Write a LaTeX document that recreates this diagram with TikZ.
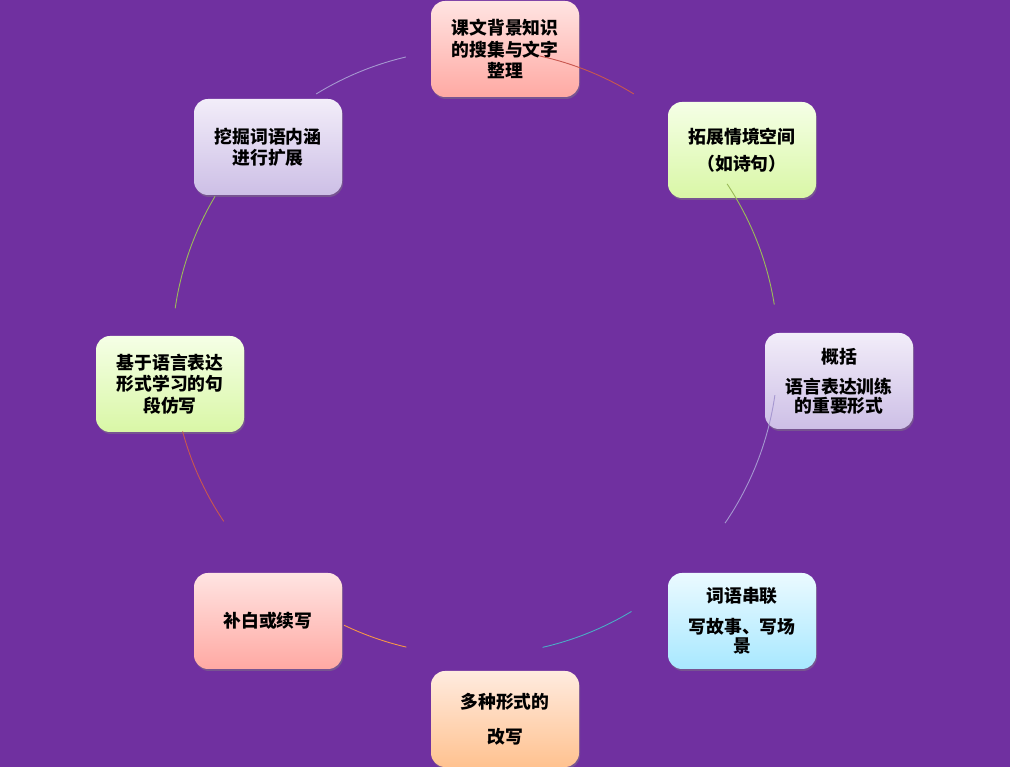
\documentclass[tikz,border=0pt]{standalone}
\usepackage{fontspec}
\newfontfamily\cjk{Noto Sans CJK SC}
\usetikzlibrary{shadows}
\definecolor{bg}{HTML}{7030A0}
\definecolor{redtop}{HTML}{FFE4E2}\definecolor{redbot}{HTML}{FFA9A3}
\definecolor{grntop}{HTML}{F5FFE6}\definecolor{grnbot}{HTML}{D9F7A6}
\definecolor{purtop}{HTML}{F2EDF9}\definecolor{purbot}{HTML}{CDBFE6}
\definecolor{blutop}{HTML}{EBFAFF}\definecolor{blubot}{HTML}{A8E8FF}
\definecolor{orgtop}{HTML}{FFEBDF}\definecolor{orgbot}{HTML}{FFC290}
\definecolor{arcred}{HTML}{C8574F}
\definecolor{arcgrn}{HTML}{9BBB59}
\definecolor{arcpur}{HTML}{A597D0}
\definecolor{arcblu}{HTML}{4BACC6}
\definecolor{arcorg}{HTML}{F79646}
\tikzset{
  cbox/.style={rounded corners=14pt, minimum width=148pt, minimum height=96pt,
    inner sep=2pt, align=center, text=black,
    font=\cjk\bfseries\fontsize{17.8}{21.5}\selectfont,
    drop shadow={opacity=0.45, shadow xshift=1pt, shadow yshift=-2pt}},
  tight/.style={font=\cjk\bfseries\fontsize{17.8}{19}\selectfont},
  redbox/.style={cbox, top color=redtop, bottom color=redbot},
  grnbox/.style={cbox, top color=grntop, bottom color=grnbot},
  purbox/.style={cbox, top color=purtop, bottom color=purbot},
  blubox/.style={cbox, top color=blutop, bottom color=blubot},
  orgbox/.style={cbox, top color=orgtop, bottom color=orgbot},
  link/.style={line width=0.9pt},
}
\begin{document}
\begin{tikzpicture}[x=1pt,y=1pt]
\fill[bg] (0,0) rectangle (1010,767);
\useasboundingbox (0,0) rectangle (1010,767);
\coordinate (c) at (475,415);
\node[redbox] (n1) at (505,718) {课文背景知识\\的搜集与文字\\整理};
\node[grnbox] (n2) at (742,617) {拓展情境空间\\[5.5pt]（如诗句）};
\node[purbox, tight] (n3) at (839,386) {概括\\[11pt]语言表达训练\\的重要形式};
\node[blubox, tight] (n4) at (742,146) {词语串联\\[12pt]写故事、写场\\景};
\node[orgbox] (n5) at (505,48) {多种形式的\\[13pt]改写};
\node[redbox] (n6) at (268,146) {补白或续写};
\node[grnbox] (n7) at (170,383) {基于语言表达\\形式学习的句\\段仿写};
\node[purbox] (n8) at (268,620) {挖掘词语内涵\\进行扩展};
\draw[link, arcred] (c) ++(77.7:303) arc[start angle=77.7, end angle=58.4, radius=303];
\draw[link, arcgrn] (c) ++(33.7:303) arc[start angle=33.7, end angle=9.0, radius=303];
\draw[link, arcpur] (c) ++(-8.2:303) arc[start angle=-8.2, end angle=-34.4, radius=303];
\draw[link, arcblu] (c) ++(-58.9:303) arc[start angle=-58.9, end angle=-77.1, radius=303];
\draw[link, arcorg] (c) ++(-103.1:303) arc[start angle=-103.1, end angle=-115.6, radius=303];
\draw[link, arcred] (c) ++(-146:303) arc[start angle=-146, end angle=-164.8, radius=303];
\draw[link, arcgrn] (c) ++(171.7:303) arc[start angle=171.7, end angle=149.1, radius=303];
\draw[link, arcpur] (c) ++(121.6:303) arc[start angle=121.6, end angle=103.2, radius=303];
\end{tikzpicture}
\end{document}
